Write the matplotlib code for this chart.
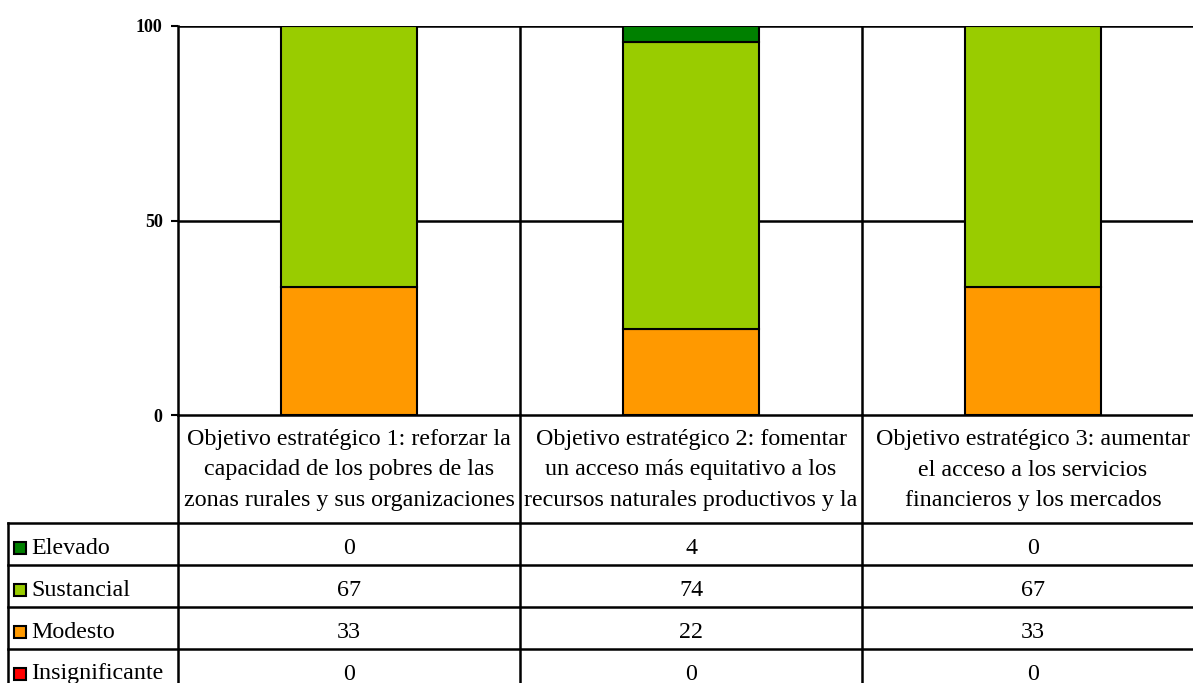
import matplotlib
matplotlib.use("Agg")
import matplotlib.pyplot as plt
import numpy as np

plt.rcParams['font.family'] = ['Liberation Serif', 'DejaVu Serif']

categories = [
    "Objetivo estratégico 1: reforzar la\ncapacidad de los pobres de las\nzonas rurales y sus organizaciones",
    "Objetivo estratégico 2: fomentar\nun acceso más equitativo a los\nrecursos naturales productivos y la",
    "Objetivo estratégico 3: aumentar\nel acceso a los servicios\nfinancieros y los mercados",
]
series_names = ["Elevado", "Sustancial", "Modesto", "Insignificante"]
elevado = [0, 4, 0]
sustancial = [67, 74, 67]
modesto = [33, 22, 33]
insignificante = [0, 0, 0]
colors = {"Elevado": "#008000", "Sustancial": "#99CC00",
          "Modesto": "#FF9900", "Insignificante": "#FF0000"}
values = {"Elevado": elevado, "Sustancial": sustancial,
          "Modesto": modesto, "Insignificante": insignificante}

W, H = 1193, 683
fig = plt.figure(figsize=(W / 100, H / 100), dpi=100)

# layout in pixels
x0, cw = 178, 342
y_top, y_zero = 26, 415
head_bot = 523
row_h = 42
leg_left = 8
x_right = x0 + cw * len(categories)

ax = fig.add_axes([x0 / W, (H - y_zero) / H, (x_right - x0) / W, (y_zero - y_top) / H])
x = np.arange(len(categories)) + 0.5
bottom = np.zeros(len(categories))
for name in ["Insignificante", "Modesto", "Sustancial", "Elevado"]:
    v = np.array(values[name], dtype=float)
    ax.bar(x, v, width=0.4, bottom=bottom, color=colors[name],
           edgecolor="black", linewidth=1.5, zorder=3)
    bottom += v
ax.set_xlim(0, len(categories))
ax.set_ylim(0, 100)
ax.set_yticks([0, 50, 100])
ax.set_yticklabels(["0", "50", "100"], fontweight="bold", fontsize=13)
ax.tick_params(axis="y", length=5, width=1.5, pad=6)
ax.set_xticks([])
for yv in [50, 100]:
    ax.axhline(yv, color="black", lw=1.8, zorder=2)
for i in range(1, len(categories)):
    ax.axvline(i, color="black", lw=1.8, zorder=2)
for s in ["top", "right", "bottom"]:
    ax.spines[s].set_visible(False)
ax.spines["left"].set_linewidth(1.8)

# data table drawn on an overlay axes in pixel space
tb = fig.add_axes([0, 0, 1, 1], zorder=5)
tb.set_xlim(0, W)
tb.set_ylim(H, 0)
tb.axis("off")
n_rows = len(series_names)
y_bot = head_bot + row_h * n_rows
lw = 1.8
tb.plot([x0, x_right], [y_zero, y_zero], color="black", lw=lw)
for r in range(n_rows + 1):
    yy = head_bot + r * row_h
    tb.plot([leg_left, x_right], [yy, yy], color="black", lw=lw)
tb.plot([leg_left, leg_left], [head_bot, y_bot], color="black", lw=lw)
tb.plot([x0, x0], [y_zero, y_bot], color="black", lw=lw)
for i in range(1, len(categories)):
    xx = x0 + i * cw
    tb.plot([xx, xx], [y_zero, y_bot], color="black", lw=lw)

fs = 17.3
for i, cat in enumerate(categories):
    tb.text(x0 + (i + 0.5) * cw, (y_zero + head_bot) / 2 + 1, cat, ha="center",
            va="center", fontsize=fs, linespacing=1.62)

for r, name in enumerate(series_names):
    yc = head_bot + (r + 0.5) * row_h + 4
    tb.add_patch(plt.Rectangle((14, yc - 6), 12, 12, facecolor=colors[name],
                               edgecolor="black", lw=1.5))
    tb.text(31, yc, name, ha="left", va="center", fontsize=fs)
    for i in range(len(categories)):
        tb.text(x0 + (i + 0.5) * cw, yc, str(values[name][i]), ha="center",
                va="center", fontsize=fs)

fig.savefig("out.png", dpi=100)
